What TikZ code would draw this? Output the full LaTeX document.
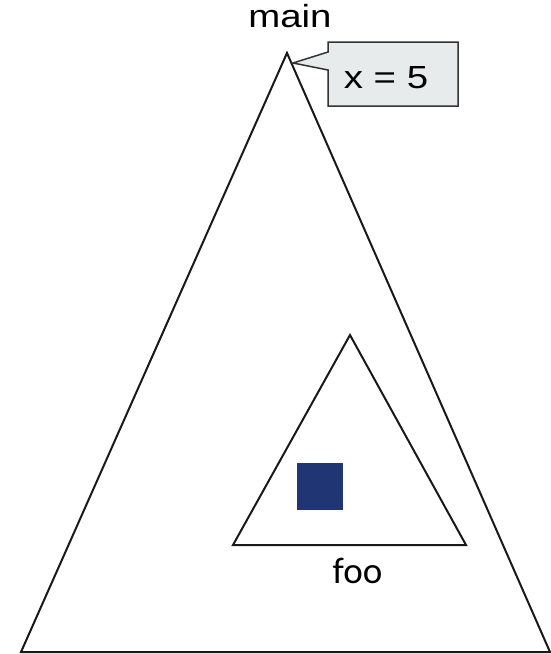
\documentclass[tikz,border=0pt]{standalone}
\usepackage{fontspec}
\setmainfont{Liberation Sans}
\newfontfamily\calib{Carlito}
\definecolor{calloutfill}{HTML}{E8EBEC}
\definecolor{navy}{HTML}{1F3574}
\begin{document}
\begin{tikzpicture}[x=1pt,y=-1pt,
  tri/.style={draw=black!90, line width=2pt, line join=miter},
  lbl/.style={inner sep=0pt, anchor=base, font=\fontsize{32}{36}\selectfont},
  ]
\useasboundingbox (0,0) rectangle (551,654);
% big triangle
\draw[tri] (287,53) -- (550,652) -- (21,652) -- cycle;
% small triangle
\draw[tri] (350,335) -- (466,545) -- (233,545) -- cycle;
% square
\fill[navy] (297,463) rectangle (343,510);
% callout
\draw[line width=1.5pt, draw=black!80, fill=calloutfill, line join=miter]
  (328,42) -- (458,42) -- (458,106) -- (328,106) -- (328,70) -- (293,63) -- (328,52) -- cycle;
% labels
\node[lbl] (main) at (290,27) {\scalebox{1.2}[1]{main}};
\node[lbl] (xval) at (386,88) {\scalebox{1.2}[1]{x = 5}};
\node[lbl, font=\calib\fontsize{37}{40}\selectfont] (foo) at (357.5,583) {foo};
\end{tikzpicture}
\end{document}
